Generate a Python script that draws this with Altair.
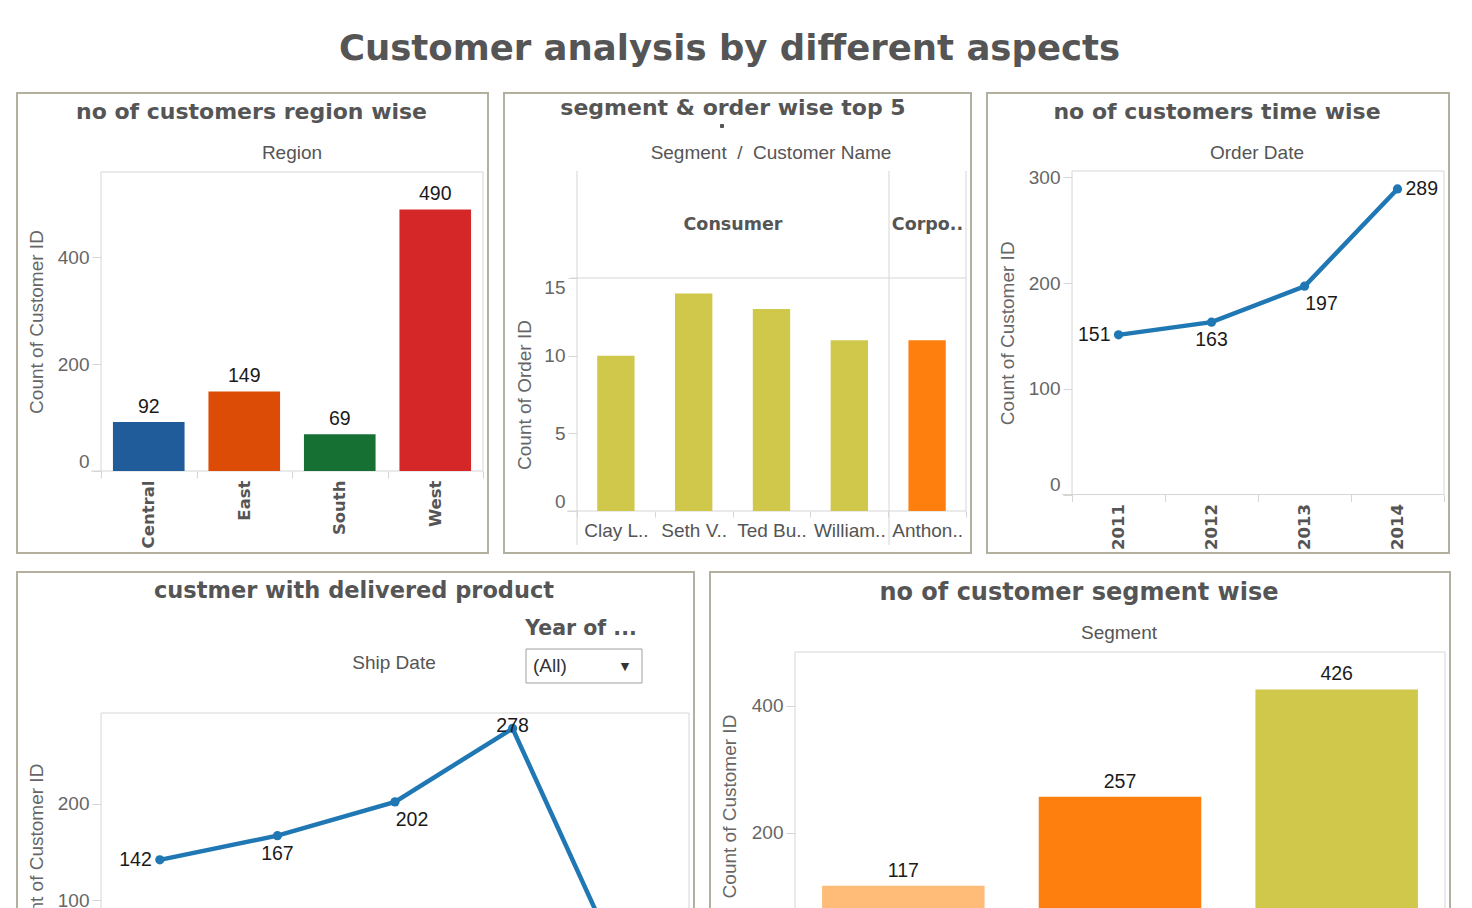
import altair as alt
import pandas as pd

# ---------------- data ----------------
regions = ["Central", "East", "South", "West"]
region_customers = [92, 149, 69, 490]
region_colors = ["#1f5c99", "#dc4c07", "#166f33", "#d62728"]

top_customers = ["Clay L..", "Seth V..", "Ted Bu..", "William..", "Anthon.."]
top_segments = ["Consumer", "Consumer", "Consumer", "Consumer", "Corporate"]
top_orders = [10, 14, 13, 11, 11]
segment_palette = {"Home Office": "#ffbb78", "Corporate": "#ff7f0e", "Consumer": "#cfc84b"}

order_years = ["2011", "2012", "2013", "2014"]
order_customers = [151, 163, 197, 289]
order_label_pos = ["left", "below", "below_right", "right"]

ship_years = ["2011", "2012", "2013", "2014", "2015"]
ship_customers = [142, 167, 202, 278, 11]
ship_label_pos = ["left", "below", "below_right", "on", "below"]

segments = ["Home Office", "Corporate", "Consumer"]
segment_customers = [117, 257, 426]

# ---------------- style ----------------
FRAME = "#b4b0a0"
GRID = "#d6d6d6"
DARK = "#555555"
AXIS_TXT = "#666666"
VAL_TXT = "#1a1a1a"
SANS = "Liberation Sans"
BOLD = "DejaVu Sans"
BLUE = "#1f77b4"
NB = "\u00a0"

POS = {
    "left": dict(align="right", dx=-8, dy=0),
    "right": dict(align="left", dx=8, dy=0),
    "below": dict(align="center", dx=0, dy=18),
    "below_right": dict(align="center", dx=17, dy=18),
    "on": dict(align="center", dx=0, dy=-2),
}


def label(text, x, y, size=19, font=SANS, weight="normal", color=DARK, align="center"):
    return alt.Chart(pd.DataFrame({"t": [text]})).mark_text(
        font=font, fontSize=size, fontWeight=weight, color=color, align=align, baseline="middle"
    ).encode(x=alt.value(x), y=alt.value(y), text="t:N")


def seg(x, y, x2, y2, color=GRID, width=1):
    return alt.Chart(pd.DataFrame({"t": [0]})).mark_rule(color=color, strokeWidth=width).encode(
        x=alt.value(x), y=alt.value(y), x2=alt.value(x2), y2=alt.value(y2)
    )


def box(x, y, x2, y2, fill="white", stroke="#a0a0a0"):
    return alt.Chart(pd.DataFrame({"t": [0]})).mark_rect(fill=fill, stroke=stroke, strokeWidth=1).encode(
        x=alt.value(x), y=alt.value(y), x2=alt.value(x2), y2=alt.value(y2)
    )


def plot_frame(x0, y0, x1, y1, ext=10):
    return [seg(x0, y0, x1, y0), seg(x1, y0, x1, y1), seg(x0, y0, x0, y1), seg(x0 - ext, y1, x1, y1)]


def y_axis(title, values, ax_x, title_x, title_y):
    return alt.Axis(
        title=title, values=values, orient="left", offset=-ax_x, grid=False, domain=False,
        ticks=True, tickColor=GRID, tickSize=9, labelFont=SANS, labelFontSize=19,
        labelColor=AXIS_TXT, labelPadding=3, labelFlush=True, titleFont=SANS, titleFontSize=19,
        titleFontWeight="normal", titleColor=AXIS_TXT, titleX=title_x - ax_x, titleY=title_y,
        titleAngle=270, titleAlign="center", titleBaseline="middle",
    )


def x_axis_rot(ax_y, H):
    return alt.Axis(
        title=None, orient="bottom", offset=ax_y - H, domain=False, ticks=True, tickBand="extent",
        tickColor=GRID, tickSize=7, labelAngle=270, labelFont=BOLD, labelFontWeight="bold",
        labelFontSize=16.5, labelColor=DARK, labelPadding=2, labelAlign="right",
        labelBaseline="middle", grid=False,
    )


def x_axis_flat(ax_y, H):
    return alt.Axis(
        title=None, orient="bottom", offset=ax_y - H, domain=False, ticks=True, tickBand="extent",
        tickColor=GRID, tickSize=6, labelAngle=0, labelFont=SANS, labelFontSize=19,
        labelColor=DARK, labelPadding=4, labelAlign="center", labelBaseline="top", grid=False,
        labelOverlap=False,
    )


def point_labels(df, x_enc, y_enc):
    layers = []
    for p, o in POS.items():
        layers.append(
            alt.Chart(df).transform_filter(alt.datum.pos == p).mark_text(
                font=SANS, fontSize=19.5, color=VAL_TXT, baseline="middle", **o
            ).encode(x=x_enc, y=y_enc, text="Customers:Q")
        )
    return layers


def band(domain, lo, hi):
    return alt.Scale(type="band", domain=domain, range=[lo, hi], paddingInner=0, paddingOuter=0)


# ---------------- panel 1 : region ----------------
W1, H1 = 471, 460
ax0, ax1, ay0, ay1 = 84, 466, 79, 378
df1 = pd.DataFrame({"Region": regions, "Customers": region_customers, "color": region_colors})
x1 = alt.X("Region:N", scale=band(regions, ax0, ax1), axis=x_axis_rot(ay1, H1))
y1 = alt.Y("Customers:Q", scale=alt.Scale(domain=[0, 560], range=[ay1, ay0], nice=False),
           axis=y_axis("Count of Customer ID", [0, 200, 400], ax0, 19, (ay0 + ay1) / 2))
bars1 = alt.Chart(df1).mark_bar(width=alt.RelativeBandSize(0.75)).encode(
    x=x1, y=y1, color=alt.Color("color:N", scale=None, legend=None))
vals1 = alt.Chart(df1).mark_text(font=SANS, fontSize=19.5, color=VAL_TXT, baseline="bottom", dy=-5).encode(
    x=alt.X("Region:N", bandPosition=0.5, scale=band(regions, ax0, ax1), axis=x_axis_rot(ay1, H1)),
    y=y1, text="Customers:Q")
p1 = alt.layer(
    *plot_frame(ax0, ay0, ax1, ay1), bars1, vals1,
    label("no of customers region wise", 234.5, 19, size=22, font=BOLD, weight="bold"),
    label("Region", 275, 60),
).properties(width=W1, height=H1)

# ---------------- panel 2 : top 5 ----------------
W2, H2 = 467, 460
bx0, bx1, by0, by1 = 73, 462, 185, 418
df2 = pd.DataFrame({"Customer": top_customers, "Segment": top_segments, "Orders": top_orders,
                    "color": [segment_palette[s] for s in top_segments]})
x2 = alt.X("Customer:N", scale=band(top_customers, bx0, bx1), axis=x_axis_flat(by1, H2))
y2 = alt.Y("Orders:Q", scale=alt.Scale(domain=[0, 15], range=[by1, by0], nice=False),
           axis=y_axis("Count of Order ID", [0, 5, 10, 15], bx0, 20, (by0 + by1) / 2))
bars2 = alt.Chart(df2).mark_bar(width=alt.RelativeBandSize(0.48)).encode(
    x=x2, y=y2, color=alt.Color("color:N", scale=None, legend=None))
p2 = alt.layer(
    seg(bx0, 78, bx0, 452), seg(385, 78, 385, 452), seg(bx1, 78, bx1, by1),
    seg(bx0 - 6, by0, bx1, by0), seg(bx0 - 10, by1, bx1, by1),
    bars2,
    label("segment & order wise top 5", 229, 15, size=22, font=BOLD, weight="bold"),
    box(216.5, 31.5, 219.5, 34.5, fill=DARK, stroke=DARK),
    label("Segment" + NB * 2 + "/" + NB * 2 + "Customer Name", 267, 60),
    label("Consumer", (bx0 + 385) / 2, 132, size=17.5, font=BOLD, weight="bold"),
    label("Corpo..", (385 + bx1) / 2, 132, size=17.5, font=BOLD, weight="bold"),
).properties(width=W2, height=H2)

# ---------------- panel 3 : order date ----------------
W3, H3 = 462, 460
cx0, cx1, cy0, cy1 = 85, 457, 78, 401.5
df3 = pd.DataFrame({"Year": order_years, "Customers": order_customers, "pos": order_label_pos})
x3 = alt.X("Year:O", bandPosition=0.5, scale=band(order_years, cx0, cx1), axis=x_axis_rot(cy1, H3))
y3 = alt.Y("Customers:Q", scale=alt.Scale(domain=[0, 306], range=[cy1, cy0], nice=False),
           axis=y_axis("Count of Customer ID", [0, 100, 200, 300], cx0, 20, (cy0 + cy1) / 2))
line3 = alt.Chart(df3).mark_line(color=BLUE, strokeWidth=4.5).encode(x=x3, y=y3)
pts3 = alt.Chart(df3).mark_circle(color=BLUE, size=85, opacity=1).encode(x=x3, y=y3)
p3 = alt.layer(
    *plot_frame(cx0, cy0, cx1, cy1), line3, pts3, *point_labels(df3, x3, y3),
    label("no of customers time wise", 230, 19, size=22, font=BOLD, weight="bold"),
    label("Order Date", 270, 60),
).properties(width=W3, height=H3)

# ---------------- panel 4 : ship date ----------------
W4, H4 = 677, 500
dx0, dx1, dy0, dy1 = 84, 672, 141, 425
df4 = pd.DataFrame({"Year": ship_years, "Customers": ship_customers, "pos": ship_label_pos})
x4 = alt.X("Year:O", bandPosition=0.5, scale=band(ship_years, dx0, dx1), axis=x_axis_rot(dy1, H4))
y4 = alt.Y("Customers:Q", scale=alt.Scale(domain=[0, 294], range=[dy1, dy0], nice=False),
           axis=y_axis("Count of Customer ID", [0, 100, 200], dx0, 19, (dy0 + dy1) / 2))
line4 = alt.Chart(df4).mark_line(color=BLUE, strokeWidth=4.5).encode(x=x4, y=y4)
pts4 = alt.Chart(df4).mark_circle(color=BLUE, size=85, opacity=1).encode(x=x4, y=y4)
p4 = alt.layer(
    *plot_frame(dx0, dy0, dx1, dy1), line4, pts4, *point_labels(df4, x4, y4),
    label("custmer with delivered product", 337, 19, size=22.5, font=BOLD, weight="bold"),
    label("Year of ...", 564, 57, size=20.5, font=BOLD, weight="bold"),
    box(509, 77, 625, 111),
    label("(All)", 516, 94, size=19, color="#333333", align="left"),
    label("▼", 608, 95, size=11, font=BOLD, color="#333333"),
    label("Ship Date", 377, 91),
).properties(width=W4, height=H4)

# ---------------- panel 5 : segment ----------------
W5, H5 = 740, 500
ex0, ex1, ey0, ey1 = 85, 735, 80, 388
df5 = pd.DataFrame({"Segment": segments, "Customers": segment_customers,
                    "color": [segment_palette[s] for s in segments]})
x5 = alt.X("Segment:N", scale=band(segments, ex0, ex1), axis=x_axis_flat(ey1, H5))
y5 = alt.Y("Customers:Q", scale=alt.Scale(domain=[0, 485], range=[ey1, ey0], nice=False),
           axis=y_axis("Count of Customer ID", [0, 200, 400], ex0, 19, (ey0 + ey1) / 2))
bars5 = alt.Chart(df5).mark_bar(width=alt.RelativeBandSize(0.75)).encode(
    x=x5, y=y5, color=alt.Color("color:N", scale=None, legend=None))
vals5 = alt.Chart(df5).mark_text(font=SANS, fontSize=19.5, color=VAL_TXT, baseline="bottom", dy=-5).encode(
    x=alt.X("Segment:N", bandPosition=0.5, scale=band(segments, ex0, ex1), axis=x_axis_flat(ey1, H5)),
    y=y5, text="Customers:Q")
p5 = alt.layer(
    *plot_frame(ex0, ey0, ex1, ey1), bars5, vals5,
    label("no of customer segment wise", 369, 21, size=24, font=BOLD, weight="bold"),
    label("Segment", 409, 61),
).properties(width=W5, height=H5)

# ---------------- dashboard ----------------
row1 = alt.hconcat(p1, p2, p3, spacing=16, bounds="flush")
row2 = alt.hconcat(p4, p5, spacing=16, bounds="flush")
chart = alt.vconcat(row1, row2, spacing=17).properties(
    title=alt.TitleParams(
        "Customer analysis by different aspects", font=BOLD, fontSize=35.5, fontWeight="bold",
        color=DARK, anchor="middle", offset=25,
    ),
    padding={"left": 0, "right": 8, "top": 23, "bottom": 8},
).configure(background="white").configure_view(stroke=FRAME, strokeWidth=2)

chart.save("out.html", embed_options={"renderer": "svg", "actions": False})
